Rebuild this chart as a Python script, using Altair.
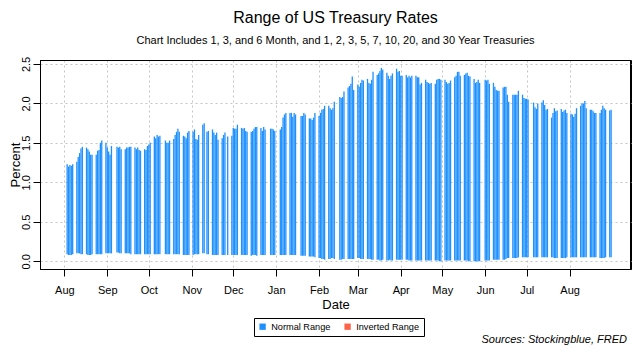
import altair as alt
import pandas as pd

FONT = "Liberation Sans"

holidays = ["2020-09-07", "2020-10-12", "2020-11-11", "2020-11-26", "2020-12-25",
            "2021-01-01", "2021-01-18", "2021-02-15", "2021-05-31", "2021-07-05"]

# daily maximum (top of range), by month
high_2020_08 = [1.23, 1.20, 1.22, 1.21, 1.23, 1.26, 1.32, 1.37, 1.43, 1.45,
                1.44, 1.42, 1.39, 1.35, 1.35, 1.35, 1.40, 1.41, 1.50, 1.53, 1.50]
high_2020_09 = [1.44, 1.39, 1.35, 1.46, 1.45, 1.44, 1.45, 1.42, 1.42, 1.44, 1.44, 1.45, 1.45,
                1.44, 1.42, 1.44, 1.41, 1.40, 1.42, 1.41, 1.46]
high_2020_10 = [1.48, 1.50, 1.58, 1.56, 1.60, 1.58, 1.59, 1.53, 1.50, 1.50, 1.53,
                1.55, 1.60, 1.64, 1.68, 1.64, 1.59, 1.58, 1.56, 1.63, 1.65]
high_2020_11 = [1.64, 1.67, 1.55, 1.54, 1.60, 1.73, 1.75, 1.64, 1.65,
                1.67, 1.63, 1.60, 1.63, 1.54, 1.56, 1.60, 1.63, 1.58, 1.59]
high_2020_12 = [1.69, 1.68, 1.68, 1.73, 1.69, 1.68, 1.69, 1.65, 1.64, 1.64, 1.65, 1.68, 1.70, 1.70,
                1.69, 1.65, 1.70, 1.67, 1.68, 1.68, 1.67, 1.65]
high_2021_01 = [1.67, 1.70, 1.82, 1.86, 1.88, 1.88, 1.88, 1.83, 1.88, 1.86,
                1.84, 1.84, 1.88, 1.86, 1.81, 1.81, 1.79, 1.82, 1.88]
high_2021_02 = [1.84, 1.88, 1.92, 1.93, 1.97, 1.97, 1.94, 1.92, 1.94, 2.02,
                2.08, 2.07, 2.08, 2.15, 2.20, 2.22, 2.25, 2.34, 2.17]
high_2021_03 = [2.24, 2.21, 2.26, 2.30, 2.29, 2.31, 2.26, 2.25, 2.30, 2.40,
                2.36, 2.38, 2.41, 2.45, 2.43, 2.39, 2.35, 2.31, 2.35, 2.38, 2.44, 2.40, 2.41]
high_2021_04 = [2.35, 2.35, 2.36, 2.33, 2.35, 2.33, 2.35, 2.35, 2.33, 2.33, 2.24, 2.26,
                2.30, 2.27, 2.26, 2.25, 2.26, 2.25, 2.30, 2.31, 2.31, 2.30]
high_2021_05 = [2.30, 2.27, 2.25, 2.26, 2.29, 2.33, 2.35, 2.40, 2.40, 2.35,
                2.36, 2.38, 2.39, 2.35, 2.34, 2.31, 2.26, 2.27, 2.30, 2.26]
high_2021_06 = [2.30, 2.29, 2.30, 2.25, 2.26, 2.21, 2.17, 2.16, 2.16, 2.20, 2.21, 2.21, 2.11, 2.02,
                2.11, 2.11, 2.11, 2.11, 2.16, 2.11, 2.07, 2.06]
high_2021_07 = [2.06, 2.05, 2.01, 1.95, 1.93, 2.00, 2.01, 2.04, 1.98, 1.92, 1.93,
                1.82, 1.88, 1.94, 1.90, 1.91, 1.93, 1.89, 1.91, 1.92, 1.88]
high_2021_08 = [1.87, 1.86, 1.83, 1.87, 1.94, 1.97, 2.00, 2.00, 2.03, 1.94,
                1.92, 1.92, 1.90, 1.88, 1.88, 1.88, 1.92, 1.97, 1.94, 1.92, 1.91, 1.92]

# daily minimum (bottom of range), by month
low_2020_08 = [0.09, 0.08, 0.08, 0.08, 0.09, 0.10, 0.10, 0.10, 0.09, 0.09,
               0.09, 0.08, 0.08, 0.08, 0.09, 0.09, 0.09, 0.09, 0.09, 0.09, 0.10]
low_2020_09 = [0.10, 0.10, 0.10, 0.10, 0.11, 0.11, 0.10, 0.10, 0.10, 0.10, 0.10, 0.10, 0.09,
               0.09, 0.09, 0.09, 0.09, 0.09, 0.09, 0.09, 0.09]
low_2020_10 = [0.09, 0.09, 0.09, 0.09, 0.09, 0.09, 0.09, 0.09, 0.09, 0.09, 0.09,
               0.09, 0.09, 0.09, 0.09, 0.09, 0.08, 0.08, 0.08, 0.08, 0.08]
low_2020_11 = [0.08, 0.09, 0.09, 0.09, 0.09, 0.10, 0.10, 0.09, 0.09,
               0.08, 0.08, 0.08, 0.08, 0.08, 0.08, 0.08, 0.08, 0.08, 0.08]
low_2020_12 = [0.08, 0.08, 0.08, 0.08, 0.08, 0.08, 0.08, 0.08, 0.08, 0.07, 0.08, 0.08, 0.08, 0.07,
               0.08, 0.08, 0.08, 0.08, 0.08, 0.08, 0.08, 0.08]
low_2021_01 = [0.08, 0.08, 0.08, 0.08, 0.08, 0.08, 0.08, 0.08, 0.08, 0.08,
               0.07, 0.07, 0.07, 0.07, 0.06, 0.06, 0.06, 0.06, 0.05]
low_2021_02 = [0.04, 0.04, 0.03, 0.03, 0.02, 0.03, 0.03, 0.04, 0.04, 0.03,
               0.02, 0.02, 0.03, 0.03, 0.03, 0.03, 0.03, 0.03, 0.03]
low_2021_03 = [0.04, 0.04, 0.03, 0.03, 0.03, 0.03, 0.03, 0.03, 0.02, 0.02,
               0.02, 0.02, 0.01, 0.01, 0.02, 0.01, 0.01, 0.02, 0.01, 0.01, 0.02, 0.02, 0.02]
low_2021_04 = [0.02, 0.02, 0.02, 0.02, 0.01, 0.01, 0.01, 0.01, 0.01, 0.01, 0.01, 0.01,
               0.01, 0.01, 0.01, 0.01, 0.01, 0.01, 0.01, 0.01, 0.00, 0.00]
low_2021_05 = [0.01, 0.01, 0.01, 0.01, 0.01, 0.01, 0.01, 0.01, 0.01, 0.01,
               0.01, 0.01, 0.01, 0.00, 0.00, 0.00, 0.00, 0.00, 0.00, 0.00]
low_2021_06 = [0.01, 0.01, 0.01, 0.01, 0.02, 0.02, 0.02, 0.02, 0.02, 0.02, 0.02, 0.03, 0.04, 0.04,
               0.04, 0.04, 0.04, 0.04, 0.05, 0.05, 0.05, 0.05]
low_2021_07 = [0.05, 0.05, 0.05, 0.05, 0.05, 0.05, 0.05, 0.05, 0.05, 0.05, 0.05,
               0.05, 0.05, 0.04, 0.04, 0.04, 0.04, 0.04, 0.04, 0.04, 0.05]
low_2021_08 = [0.05, 0.05, 0.05, 0.05, 0.05, 0.05, 0.05, 0.05, 0.05, 0.05,
               0.05, 0.05, 0.05, 0.05, 0.05, 0.04, 0.04, 0.04, 0.04, 0.05, 0.05, 0.05]

highs = (high_2020_08 + high_2020_09 + high_2020_10 + high_2020_11 + high_2020_12 +
         high_2021_01 + high_2021_02 + high_2021_03 + high_2021_04 + high_2021_05 +
         high_2021_06 + high_2021_07 + high_2021_08)
lows = (low_2020_08 + low_2020_09 + low_2020_10 + low_2020_11 + low_2020_12 +
        low_2021_01 + low_2021_02 + low_2021_03 + low_2021_04 + low_2021_05 +
        low_2021_06 + low_2021_07 + low_2021_08)

days = [d for d in pd.bdate_range("2020-08-03", "2021-08-31") if d.strftime("%Y-%m-%d") not in holidays]
dates = [d.strftime("%Y-%m-%d") for d in days]
assert len(dates) == len(highs) == len(lows), (len(dates), len(highs), len(lows))

range_types = ["Normal Range", "Inverted Range"]
range_colors = ["#1E90FF", "#FF6347"]
kinds = ["Normal Range" if h >= l else "Inverted Range" for h, l in zip(highs, lows)]

month_ticks = [alt.DateTime(year=y, month=m, date=1) for (y, m) in
               [(2020, 8), (2020, 9), (2020, 10), (2020, 11), (2020, 12), (2021, 1), (2021, 2),
                (2021, 3), (2021, 4), (2021, 5), (2021, 6), (2021, 7), (2021, 8)]]
y_ticks = [0.0, 0.5, 1.0, 1.5, 2.0, 2.5]

df = pd.DataFrame({"date": dates, "low": lows, "high": highs, "kind": kinds})

W, H = 591, 209

bars = alt.Chart(df).mark_bar(width=1.3).encode(
    x=alt.X("date:T",
            scale=alt.Scale(domain=[alt.DateTime(year=2020, month=7, date=18),
                                    alt.DateTime(year=2021, month=9, date=10, hours=18)], nice=False),
            axis=alt.Axis(values=month_ticks, format="%b", title="Date", tickSize=7,
                          tickColor="black", labelPadding=8, labelFlush=False, labelOverlap=False,
                          grid=True, gridDash=[2, 3], gridColor="#c4c4c4",
                          domain=True, domainColor="black", domainWidth=1,
                          labelFontSize=11, titleFontSize=13, titleFontWeight="normal",
                          titlePadding=3, labelColor="black", titleColor="black",
                          labelFont=FONT, titleFont=FONT)),
    y=alt.Y("low:Q",
            scale=alt.Scale(domain=[-0.098, 2.55], nice=False, zero=False),
            axis=alt.Axis(values=y_ticks, format=".1f", title="Percent", tickSize=7,
                          tickColor="black", labelAngle=270, labelAlign="center",
                          labelBaseline="bottom", labelPadding=2, labelFlush=False,
                          grid=True, gridDash=[2, 3], gridColor="#c4c4c4",
                          domain=True, domainColor="black", domainWidth=1,
                          labelFontSize=11, titleFontSize=13, titleFontWeight="normal",
                          titleX=-25, titleY=H / 2, titleAngle=270, titleAlign="center",
                          titleBaseline="middle",
                          labelColor="black", titleColor="black",
                          labelFont=FONT, titleFont=FONT)),
    y2="high:Q",
    color=alt.Color("kind:N",
                    scale=alt.Scale(domain=range_types, range=range_colors),
                    legend=alt.Legend(orient="none", legendX=214, legendY=258,
                                      direction="horizontal", title=None,
                                      symbolType="square", symbolSize=40,
                                      symbolStrokeWidth=0,
                                      labelFontSize=9.2, labelFont=FONT, labelColor="black",
                                      labelOffset=4, columnPadding=12,
                                      strokeColor="black", padding=4)),
)

# plot box: top and right edges (left and bottom come from the axis domains)
one = pd.DataFrame({"f": [0]})
top_edge = alt.Chart(one).mark_rule(color="black", strokeWidth=1).encode(
    x=alt.value(0), x2=alt.value(W), y=alt.value(0.5))
right_edge = alt.Chart(one).mark_rule(color="black", strokeWidth=1).encode(
    x=alt.value(W - 0.5), y=alt.value(0), y2=alt.value(H))

source_df = pd.DataFrame({"t": ["Sources: Stockingblue, FRED"]})
sources = alt.Chart(source_df).mark_text(
    align="right", baseline="middle", fontStyle="italic", fontSize=11, font=FONT, color="black"
).encode(x=alt.value(587), y=alt.value(280), text="t:N")

chart = alt.layer(bars, top_edge, right_edge, sources).properties(
    width=W, height=H,
    autosize=alt.AutoSizeParams(type="none"),
    padding={"left": 32, "top": 52, "right": 1, "bottom": 77},
    title=alt.TitleParams(
        text="Range of US Treasury Rates",
        subtitle="Chart Includes 1, 3, and 6 Month, and 1, 2, 3, 5, 7, 10, 20, and 30 Year Treasuries",
        fontSize=16, fontWeight="normal", font=FONT, color="black",
        subtitleFontSize=11, subtitleFont=FONT, subtitleColor="black",
        anchor="middle", frame="group", offset=10, subtitlePadding=9),
).configure(background="white").configure_view(stroke="black", strokeWidth=1)

chart.save("out.html", embed_options={"renderer": "svg", "actions": False})
